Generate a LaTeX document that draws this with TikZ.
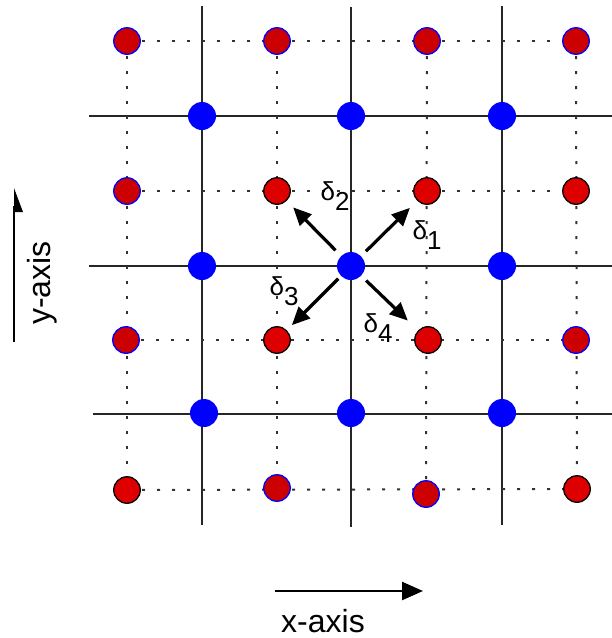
\documentclass[tikz,border=0pt]{standalone}
\usepackage{fontspec}
\setmainfont{Liberation Sans}
\usetikzlibrary{arrows.meta,backgrounds}
\begin{document}
\begin{tikzpicture}[x=1pt,y=-1pt,
  reddot/.style={circle,fill=red!80!black,minimum size=26.5pt,inner sep=0pt,line width=1.3pt},
  rb/.style={reddot,draw=blue},
  rk/.style={reddot,draw=black,fill=red!87!black},
  bluedot/.style={circle,fill=blue,minimum size=28pt,inner sep=0pt},
  gridline/.style={line width=1.8pt,black!85},
  dotline/.style={line width=2pt,dash pattern=on 3pt off 12pt,black!80},
  deltaarrow/.style={line width=3.2pt,-{Triangle[length=18pt,width=16pt]}},
  lbl/.style={inner sep=0pt,font=\fontsize{26}{28}\selectfont},
  axlbl/.style={inner sep=0pt,font=\fontsize{32}{36}\selectfont}]
\useasboundingbox (0,0) rectangle (612,638);

% red dots
\node[rb] (r11) at (127,41) {};
\node[rb] (r12) at (277,41) {};
\node[rb] (r13) at (427,41) {};
\node[rb] (r14) at (576,41) {};
\node[rb] (r21) at (127,191) {};
\node[rk] (r22) at (277,191) {};
\node[rk] (r23) at (427,191) {};
\node[rk] (r24) at (576,191) {};
\node[rb] (r31) at (126,340) {};
\node[rk] (r32) at (277,340) {};
\node[rk] (r33) at (428,340) {};
\node[rb] (r34) at (576,340) {};
\node[rk] (r41) at (127,490) {};
\node[rb] (r42) at (277,488) {};
\node[rb] (r43) at (426,494) {};
\node[rk] (r44) at (577,489) {};

% blue dots
\node[bluedot] (b11) at (202,116) {};
\node[bluedot] (b12) at (351,116) {};
\node[bluedot] (b13) at (502,116) {};
\node[bluedot] (b21) at (202,266) {};
\node[bluedot] (b22) at (351,266) {};
\node[bluedot] (b23) at (502,266) {};
\node[bluedot] (b31) at (204,413) {};
\node[bluedot] (b32) at (351,413) {};
\node[bluedot] (b33) at (502,413) {};

% grid end points
\coordinate (vt1) at (202,6);   \coordinate (vb1) at (202,525);
\coordinate (vt2) at (351,7);   \coordinate (vb2) at (351,527);
\coordinate (vt3) at (502,6);   \coordinate (vb3) at (502,525);
\coordinate (hl1) at (89,116);  \coordinate (hr1) at (612,116);
\coordinate (hl2) at (89,266);  \coordinate (hr2) at (612,266);
\coordinate (hl3) at (93,414);  \coordinate (hr3) at (612,414);

\begin{pgfonlayer}{background}
  \draw[gridline] (vt1) -- (vb1);
  \draw[gridline] (vt2) -- (vb2);
  \draw[gridline] (vt3) -- (vb3);
  \draw[gridline] (hl1) -- (hr1);
  \draw[gridline] (hl2) -- (hr2);
  \draw[gridline] (hl3) -- (hr3);
  % dotted lines
  \draw[dotline] (r11.center) -- (r14.center);
  \draw[dotline] (r21.center) -- (r24.center);
  \draw[dotline] (r31.center) -- (r34.center);
  \draw[dotline] (r41.center) -- (r44.center);
  \draw[dotline] (r11.center) -- (r41.center);
  \draw[dotline] (r12.center) -- (r42.center);
  \draw[dotline] (r13.center) -- (r43.center);
  \draw[dotline] (r14.center) -- (r44.center);
\end{pgfonlayer}

% delta arrows
\draw[deltaarrow,shorten <=21pt,shorten >=24pt] (b22.center) -- (r23.center);
\draw[deltaarrow,shorten <=22pt,shorten >=23pt] (b22.center) -- (r22.center);
\draw[deltaarrow,shorten <=18pt,shorten >=21pt] (b22.center) -- (r32.center);
\draw[deltaarrow,shorten <=21pt,shorten >=28pt] (b22.center) -- (r33.center);

% delta labels
\node[lbl] (d1) at (427,235) {δ\raisebox{-10pt}{1}};
\node[lbl] (d2) at (335,196) {δ\raisebox{-10pt}{2}};
\node[lbl] (d3) at (284,291) {δ\raisebox{-10pt}{3}};
\node[lbl] (d4) at (378,328) {δ\raisebox{-10pt}{4}};

% axes
\coordinate (xs) at (275,591);
\coordinate (xe) at (423,591);
\draw[line width=2.5pt,-{Triangle[length=21pt,width=18pt]}] (xs) -- (xe);
\node[axlbl] (xl) at (323,621) {x-axis};

\coordinate (ys) at (14,342);
\coordinate (ye) at (14,206);
\coordinate (ytip) at (14,188);
\draw[line width=2.5pt] (ys) -- (ye);
\fill (ytip) -- ++(0,24) -- ++(9,0) -- cycle;
\node[axlbl,rotate=90] (yl) at (42,283) {y-axis};
\end{tikzpicture}
\end{document}
